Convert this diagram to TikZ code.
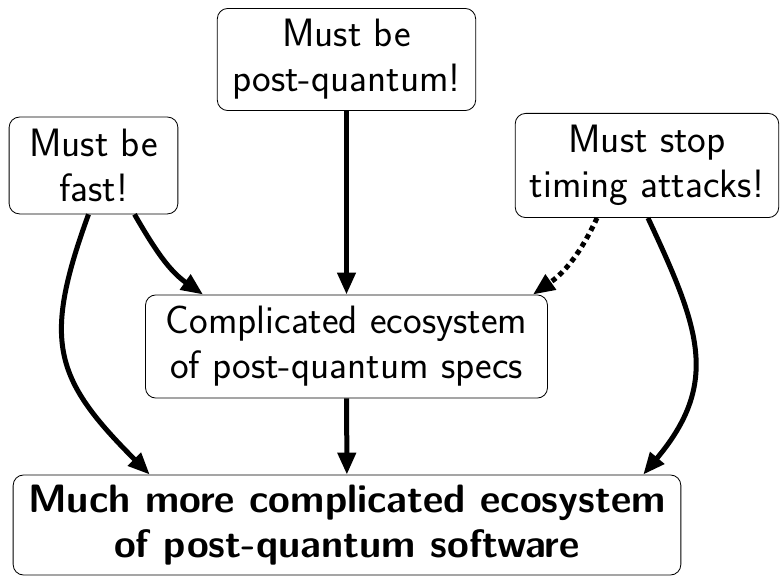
\documentclass[tikz,border=0pt]{standalone}
\usepackage{tikz}
\usetikzlibrary{arrows.meta,calc}

\tikzset{
  box/.style={draw, rounded corners=5pt, align=center, font=\sffamily\fontsize{19}{21.6}\selectfont, inner sep=0pt},
  need/.style={->, >={Triangle[length=10.5pt,width=8.5pt]}, line width=2.4pt},
}

\begin{document}
\begin{tikzpicture}[x=0.48pt, y=-0.48pt]
\useasboundingbox (0,0) rectangle (781,577);
\node [box, minimum width=124pt, minimum height=49pt] (pq) at (346.5,59.5) {Must be\\post-quantum!};
\node [box, minimum width=81pt, minimum height=46.5pt] (fast) at (93.5,165.5) {Must be\\fast!};
\node [box, minimum width=126.5pt, minimum height=50pt] (timing) at (647,165.5) {Must stop\\timing attacks!};
\node [box, minimum width=193pt, minimum height=49.5pt] (specs) at (346.5,346.5) {Complicated ecosystem\\of post-quantum specs};
\node [box, minimum width=320.5pt, minimum height=48pt, font=\sffamily\fontsize{19}{21.6}\selectfont\bfseries] (soft) at (347,525) {Much more complicated ecosystem\\of post-quantum software};
% arrows
\draw [need] (pq) -- (specs);
\draw [need] (specs) -- (soft);
\draw [need] ($(fast.south)+(-5,0)$) to[out=-110, in=135, looseness=1.3] ($(soft.north west)+(137,0)$);
\draw [need] ($(fast.south)+(41,0)$) to[out=-60, in=145] ($(specs.north west)+(58,0)$);
\draw [need, dotted] ($(timing.south)+(-50,0)$) to[out=-115, in=35] ($(specs.north east)+(-15,0)$);
\draw [need] ($(timing.south)+(1,0)$) to[out=-65, in=50, looseness=1.2] ($(soft.north east)+(-38,0)$);
\end{tikzpicture}
\end{document}
